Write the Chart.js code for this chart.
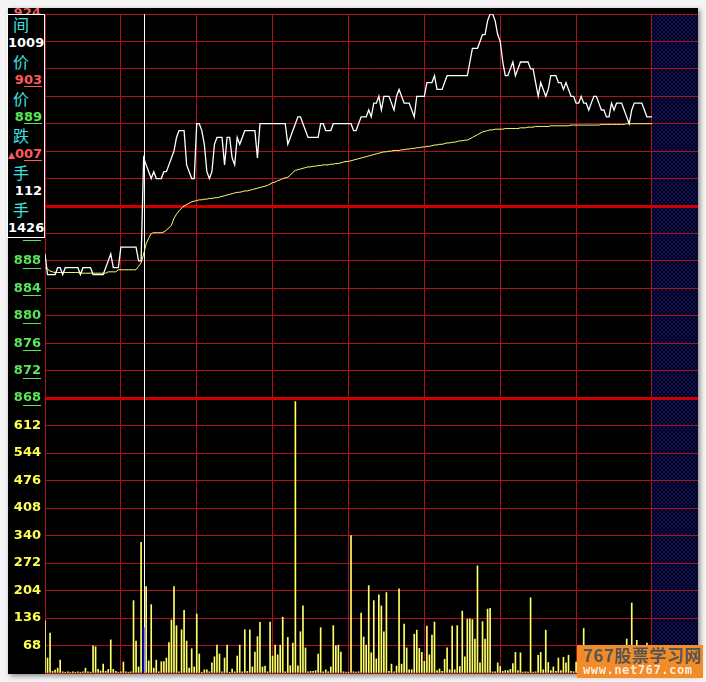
<!DOCTYPE html>
<html>
<head>
<meta charset="utf-8">
<title>分时走势</title>
<script src="https://cdn.jsdelivr.net/npm/chart.js@4.4.1/dist/chart.umd.min.js"></script>
<style>
  body { margin:0; background:#f4f4f4; width:706px; height:682px; overflow:hidden; position:relative; }
  #wrap { position:absolute; left:8px; top:8px; width:690px; height:666px; background:#000; box-shadow:2px 2px 5px #888; }
  #wrap canvas { display:block; }
  #info { position:absolute; left:7px; top:14px; width:36px; height:222px; border:1px solid #fff; background:#000; overflow:hidden; }
  #info div { height:18.5px; line-height:18.5px; white-space:nowrap; }
  .zh { color:#3ee0e0; font:16px "Noto Sans CJK SC"; padding-left:5px; }
  .num { text-align:right; padding-right:2px; font:bold 13px "DejaVu Sans"; }
  .num u { text-underline-offset:2px; }
  #logo { position:absolute; left:577px; top:645px; width:126px; height:33px; background:#f28c28; }
  #logo .t1 { position:absolute; left:6px; top:0; font:bold 17px "Noto Sans CJK SC"; color:#555; line-height:19px; letter-spacing:0.5px; }
  #logo .t2 { position:absolute; left:6px; top:19px; font:bold 12px "DejaVu Sans Mono"; color:#fbeee0; line-height:13px; letter-spacing:0.6px; }
</style>
</head>
<body>
<div id="wrap"><canvas id="fenshi" width="690" height="666"></canvas></div>

<div id="info">
  <div class="zh">间</div>
  <div class="num" style="color:#fff">1009</div>
  <div class="zh">价</div>
  <div class="num" style="color:#ff5a5a">9<u>03</u></div>
  <div class="zh">价</div>
  <div class="num" style="color:#5ae65a">8<u>89</u></div>
  <div class="zh">跌</div>
  <div class="num" style="color:#ff5a5a"><span style="font-size:9px">▲</span>0<u>07</u></div>
  <div class="zh">手</div>
  <div class="num" style="color:#fff">112</div>
  <div class="zh">手</div>
  <div class="num" style="color:#fff">1426</div>
</div>

<div id="logo"><div class="t1">767股票学习网</div><div class="t2">www.net767.com</div></div>

<script>
// 分时价格 (分), 每分钟一个点
const price = [
  889,886,886,886,886,887,887,886,887,887,
  887,887,887,887,886,887,887,887,887,886,
  886,886,886,886,887,888,889,887,887,887,
  890,890,890,890,890,890,890,888,888,903,
  902,901,900,901,900,900,900,901,901,902,
  903,904,906,907,907,907,902,901,900,900,
  908,908,907,905,901,900,901,905,906,906,
  906,902,906,906,903,902,906,905,906,907,
  907,907,907,907,903,908,908,908,908,908,
  908,908,908,908,908,908,905,906,907,908,
  909,909,908,907,906,906,906,906,906,908,
  908,907,907,907,908,908,908,908,908,908,
  908,908,907,907,908,909,909,909,910,909,
  911,911,912,910,912,912,912,911,910,912,
  913,912,911,911,911,910,909,912,912,912,
  912,914,914,914,915,913,913,913,914,915,
  915,915,915,915,915,915,915,915,917,919,
  919,919,920,921,921,923,924,924,923,921,
  920,917,915,915,916,917,915,916,917,917,
  917,917,916,916,914,912,914,913,912,913,
  915,915,915,914,914,913,914,913,912,912,
  911,911,912,911,911,910,911,912,912,911,
  910,910,909,909,911,910,911,911,911,910,
  909,908,910,911,911,911,911,910,909,909,
  909
];

// 均价线
const avgPrice = [
  887.0,886.8,886.5,886.4,886.3,886.3,886.3,886.3,886.3,886.3,
  886.3,886.3,886.3,886.3,886.2,886.2,886.2,886.2,886.2,886.2,
  886.2,886.2,886.2,886.2,886.2,886.4,886.4,886.4,886.4,886.7,
  886.7,886.7,886.7,886.7,886.7,886.7,886.7,887.2,887.7,889.0,
  890.5,891.3,892.0,892.1,892.1,892.1,892.1,892.2,892.5,892.8,
  893.2,894.2,894.8,895.3,895.7,896.0,896.2,896.4,896.6,896.7,
  896.8,896.9,896.9,897.0,897.0,897.1,897.1,897.2,897.2,897.3,
  897.4,897.5,897.6,897.7,897.8,897.9,898.0,898.0,898.1,898.2,
  898.2,898.3,898.4,898.5,898.6,898.7,898.8,898.9,899.0,899.2,
  899.4,899.5,899.7,899.8,900.0,900.1,900.2,900.5,900.9,901.2,
  901.3,901.4,901.5,901.6,901.7,901.7,901.8,901.8,901.9,901.9,
  902.0,902.0,902.0,902.1,902.1,902.2,902.2,902.3,902.4,902.5,
  902.5,902.6,902.7,902.8,902.9,903.0,903.1,903.2,903.3,903.4,
  903.5,903.6,903.7,903.8,903.9,903.9,904.0,904.0,904.1,904.1,
  904.1,904.2,904.2,904.3,904.3,904.4,904.4,904.5,904.5,904.6,
  904.6,904.7,904.7,904.8,904.9,904.9,905.0,905.0,905.1,905.2,
  905.2,905.3,905.3,905.4,905.5,905.5,905.6,905.6,905.8,906.0,
  906.2,906.4,906.6,906.8,906.9,907.0,907.1,907.1,907.2,907.2,
  907.2,907.2,907.3,907.3,907.3,907.3,907.3,907.3,907.4,907.4,
  907.4,907.5,907.5,907.5,907.6,907.6,907.6,907.6,907.6,907.6,
  907.7,907.7,907.7,907.7,907.7,907.7,907.7,907.7,907.8,907.8,
  907.8,907.8,907.8,907.8,907.8,907.8,907.8,907.8,907.8,907.8,
  907.9,907.9,907.9,907.9,907.9,907.9,907.9,907.9,907.9,907.9,
  908.0,908.0,908.0,908.0,908.0,908.0,908.0,908.0,908.0,908.0,
  908.0
];

// 成交量 (手)
const volume = [
  129,37,99,4,7,12,32,3,2,3,
  2,3,2,3,2,3,12,3,2,67,
  65,9,5,22,4,9,82,9,4,2,
  3,27,3,2,3,179,79,15,323,112,
  214,30,169,12,32,3,28,28,37,75,
  131,214,117,3,107,155,79,12,60,15,
  146,47,2,8,8,3,25,40,69,47,
  3,37,69,2,10,3,42,69,3,107,
  4,107,15,52,90,125,15,17,3,126,
  42,69,45,69,138,3,88,18,74,671,
  18,102,166,62,3,4,4,6,47,112,
  3,8,3,15,117,67,69,52,3,2,
  2,340,3,2,3,148,89,69,216,50,
  179,35,193,166,102,199,4,22,3,17,
  208,22,121,62,8,8,96,106,61,51,
  29,116,45,94,126,6,10,4,34,62,
  8,116,8,117,16,153,40,133,134,132,
  84,265,25,127,84,158,160,3,3,25,
  16,4,6,6,9,23,51,6,50,2,
  3,2,186,2,3,44,51,8,106,26,
  6,15,4,37,6,39,25,44,4,3,
  27,5,8,110,6,12,5,9,4,15,
  6,10,4,8,12,5,7,4,9,6,
  84,5,173,8,81,6,10,4,74,6,
  12
];

const timeTicks = [0, 30, 60, 90, 120, 150, 180, 210, 240];  // 每半小时一条竖线
const prevClose = 896;
const priceMin = 868, priceMax = 924, priceStep = 4;
const volMax = 680, volStep = 68;
const cursorIndex = 39;  // 10:09

const gridThin = '#b0101e';
const gridThick = '#cc0000';

function makeHatch(ctx) {
  const c = document.createElement('canvas');
  c.width = 4; c.height = 4;
  const g = c.getContext('2d');
  g.fillStyle = '#000';
  g.fillRect(0, 0, 4, 4);
  g.fillStyle = '#0e0e6c';
  [[0,0],[1,1],[2,2],[3,3],[3,0],[2,1],[1,2],[0,3]].forEach(p => g.fillRect(p[0], p[1], 1, 1));
  return ctx.createPattern(c, 'repeat');
}

// 固定左侧刻度宽度, 去掉标签带来的上下留白
function fixAxis(s) {
  s.width = 37;
  s.paddingTop = 0;
  s.paddingBottom = 0;
}

const fenshiPlugin = {
  id: 'fenshi',
  beforeDraw(chart) {
    const {ctx, chartArea: a, scales: {x}} = chart;
    ctx.save();
    ctx.fillStyle = '#000';
    ctx.fillRect(0, 0, chart.width, chart.height);
    const x0 = x.getPixelForValue(timeTicks[timeTicks.length - 1]);
    ctx.fillStyle = makeHatch(ctx);
    ctx.fillRect(x0, a.top, a.right - x0, a.bottom - a.top);
    ctx.restore();
  },
  beforeDatasetsDraw(chart) {
    // 十字光标竖线
    const {ctx, chartArea: a, scales: {x}} = chart;
    const px = Math.round(x.getPixelForValue(cursorIndex)) + 0.5;
    ctx.save();
    ctx.strokeStyle = '#fff';
    ctx.lineWidth = 1;
    ctx.beginPath();
    ctx.moveTo(px, a.top);
    ctx.lineTo(px, a.bottom);
    ctx.stroke();
    ctx.restore();
  },
  afterDraw(chart) {
    // 价格刻度后两位下划线
    const {ctx, chartArea: a, scales: {y}} = chart;
    ctx.save();
    ctx.font = 'bold 13px "DejaVu Sans"';
    y.ticks.forEach(t => {
      if (t.value >= prevClose) return;
      const s = String(t.value);
      const w = ctx.measureText(s.slice(-2)).width;
      const py = Math.round(y.getPixelForValue(t.value)) + 7.5;
      const right = a.left - 4;
      ctx.strokeStyle = '#5ae65a';
      ctx.lineWidth = 1;
      ctx.beginPath();
      ctx.moveTo(right - w, py);
      ctx.lineTo(right, py);
      ctx.stroke();
    });
    ctx.restore();
  }
};

new Chart(document.getElementById('fenshi'), {
  type: 'bar',
  data: {
    datasets: [
      {
        type: 'line',
        data: price.map((p, i) => ({x: i, y: p})),
        borderColor: '#ffffff',
        borderWidth: 1.3,
        pointRadius: 0,
        tension: 0,
        xAxisID: 'x',
        yAxisID: 'y',
        order: 0
      },
      {
        type: 'line',
        data: avgPrice.map((p, i) => ({x: i, y: p})),
        borderColor: '#ffff70',
        borderWidth: 1,
        pointRadius: 0,
        tension: 0,
        xAxisID: 'x',
        yAxisID: 'y',
        order: 1
      },
      {
        type: 'bar',
        data: volume.map((v, i) => ({x: i, y: v})),
        backgroundColor: c => c.dataIndex === cursorIndex ? '#0000ff' : '#ffff66',
        barThickness: 1,
        xAxisID: 'x',
        yAxisID: 'vol',
        order: 2
      }
    ]
  },
  options: {
    responsive: false,
    animation: false,
    layout: {padding: {top: 6, right: 0, bottom: 1, left: 0}},
    plugins: {legend: {display: false}, tooltip: {enabled: false}},
    scales: {
      x: {
        type: 'linear',
        min: 0,
        max: 258.2,
        offset: false,
        afterBuildTicks: s => { s.ticks = timeTicks.map(v => ({value: v})); },
        afterFit: s => { s.height = 0; s.paddingLeft = 0; s.paddingRight = 0; },
        ticks: {display: false},
        grid: {color: gridThin, lineWidth: 1, drawTicks: false, offset: false},
        border: {display: false}
      },
      y: {
        type: 'linear',
        position: 'left',
        stack: 'fs',
        stackWeight: 384,
        weight: 2,
        min: priceMin,
        max: priceMax,
        afterFit: fixAxis,
        ticks: {
          stepSize: priceStep,
          autoSkip: false,
          padding: 4,
          font: {family: 'DejaVu Sans', size: 13, weight: 'bold'},
          color: c => c.tick.value > prevClose ? '#ff5a5a' : (c.tick.value < prevClose ? '#5ae65a' : '#ffffff')
        },
        grid: {
          drawTicks: false,
          color: c => (c.tick.value === prevClose || c.tick.value === priceMin) ? gridThick : gridThin,
          lineWidth: c => (c.tick.value === prevClose || c.tick.value === priceMin) ? 3 : 1
        },
        border: {display: false}
      },
      vol: {
        type: 'linear',
        position: 'left',
        stack: 'fs',
        stackWeight: 275,
        weight: 1,
        min: 0,
        max: volMax,
        afterFit: fixAxis,
        ticks: {
          stepSize: volStep,
          autoSkip: false,
          padding: 4,
          font: {family: 'DejaVu Sans', size: 13, weight: 'bold'},
          color: '#ffff50',
          callback: v => (v === 0 || v === volMax) ? '' : v
        },
        grid: {
          drawTicks: false,
          color: c => c.tick.value === volMax ? 'rgba(0,0,0,0)' : gridThin,
          lineWidth: 1
        },
        border: {display: false}
      }
    }
  },
  plugins: [fenshiPlugin]
});
</script>
</body>
</html>
